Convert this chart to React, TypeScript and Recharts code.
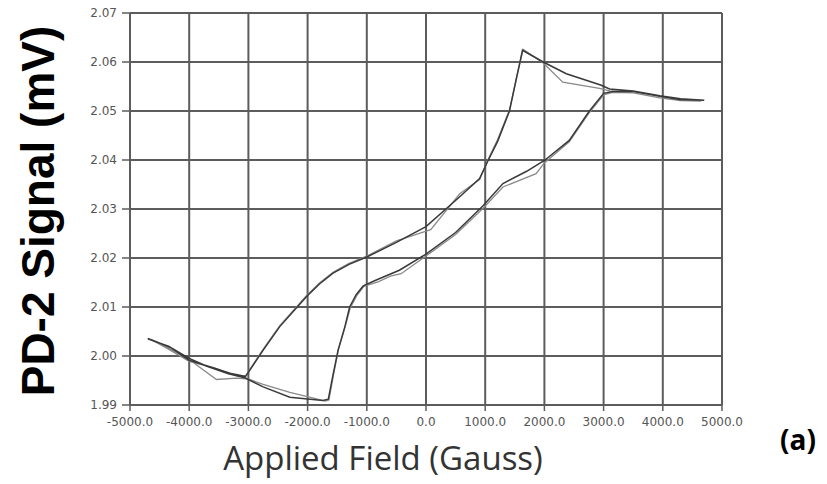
import React from 'react';
import { LineChart, Line, CartesianGrid, XAxis, YAxis } from 'recharts';

// first loop (darker trace): field swept up from -4700 G, then back down
const fieldDark = [
  -4700, -4350, -4000, -3700, -3350, -3050, -2750, -2300, -2000, -1740, -1650, -1570, -1485, -1370,
  -1290, -1180, -1060, -840, -450, 0, 500, 960, 1300, 1700, 2000, 2420, 2760, 3000, 3150, 3500,
  3950, 4300, 4700, 4300, 3950, 3500, 3100, 2950, 2370, 1980, 1630, 1520, 1410, 1210, 1045, 905, 570, 0,
  -500, -1000, -1300, -1570, -1800, -2020, -2470, -2750, -3050, -3310, -3650, -4000, -4320, -4700
];
const signalDark = [
  2.0035, 2.002, 1.9995, 1.9979, 1.9964, 1.9955, 1.9937, 1.9916, 1.9912, 1.9909, 1.9912, 1.9962, 2.0012, 2.006,
  2.01, 2.0125, 2.0143, 2.0155, 2.0175, 2.0208, 2.0252, 2.0306, 2.0352, 2.0377, 2.0399, 2.044, 2.05, 2.0536, 2.054, 2.054,
  2.053, 2.0523, 2.0522, 2.0525, 2.0531, 2.0541, 2.0545, 2.0553, 2.0576, 2.06, 2.0624, 2.0562, 2.05, 2.0438, 2.0398, 2.0362, 2.0325, 2.0264,
  2.0232, 2.0202, 2.0187, 2.0169, 2.0147, 2.0121, 2.006, 2.0012, 1.9958, 1.9965, 1.9978, 1.9991, 2.0018, 2.0036
];

// second loop (lighter trace)
const fieldLight = [
  -4650, -4380, -4000, -3540, -3200, -3000, -2750, -2300, -1900, -1700, -1640, -1560, -1480, -1370,
  -1280, -1170, -1050, -800, -600, -420, 0, 500, 960, 1300, 1860, 2000, 2420, 2760, 3000, 3150,
  3500, 3950, 4300, 4650, 4300, 3950, 3500, 3100, 2930, 2310, 1980, 1640, 1520, 1410, 1210, 1045, 905,
  570, 80, -500, -1000, -1300, -1570, -1800, -2020, -2470, -2750, -3050, -3310, -3540, -4000, -4380, -4650
];
const signalLight = [
  2.0034, 2.0019, 1.9993, 1.9952, 1.9955, 1.9953, 1.9942, 1.9926, 1.9914, 1.9908, 1.991, 1.9963, 2.0013, 2.0058,
  2.0098, 2.0123, 2.0142, 2.0152, 2.0163, 2.0168, 2.0204, 2.0248, 2.0301, 2.0345, 2.0372, 2.0394, 2.0437, 2.0497, 2.0533, 2.0538,
  2.0537, 2.0527, 2.0521, 2.052, 2.0521, 2.0527, 2.0537, 2.0541, 2.0546, 2.0559, 2.0598, 2.0626, 2.0564, 2.0502, 2.0442, 2.04, 2.036,
  2.0331, 2.0258, 2.0235, 2.0204, 2.0189, 2.0171, 2.0149, 2.0123, 2.0062, 2.0014, 1.9959, 1.9963, 1.9974, 1.9989, 2.0016, 2.0034
];

const xTicks = [-5000, -4000, -3000, -2000, -1000, 0, 1000, 2000, 3000, 4000, 5000];
const yTicks = [1.99, 2.0, 2.01, 2.02, 2.03, 2.04, 2.05, 2.06, 2.07];

const GRID = '#5c5c5c';
const tickStyle = { fontSize: 12, fill: '#555', fontFamily: 'DejaVu Sans' };

const toPoints = (xs: number[], ys: number[]) => xs.map((x, i) => ({ x, y: ys[i] }));

const YTitle = () => (
  <text
    x={54}
    y={211}
    transform="rotate(-90 54 211)"
    textAnchor="middle"
    fontFamily="Liberation Sans, Arial, sans-serif"
    fontWeight="bold"
    fontSize={46}
    fill="#000"
  >
    PD-2 Signal (mV)
  </text>
);

const XTitle = () => (
  <text x={383} y={470} textAnchor="middle" fontFamily="Open Sans" fontSize={33} fill="#333">
    Applied Field (Gauss)
  </text>
);

export default function App() {
  const darkData = React.useMemo(() => toPoints(fieldDark, signalDark), []);
  const lightData = React.useMemo(() => toPoints(fieldLight, signalLight), []);

  return (
    <div style={{ position: 'absolute', left: 0, top: 0, width: 827, height: 484, background: '#fff' }}>
      <LineChart width={827} height={484} margin={{ top: 13, right: 105, bottom: 49, left: 70 }}>
        <CartesianGrid stroke={GRID} strokeWidth={2} />
        <XAxis
          type="number"
          dataKey="x"
          domain={[-5000, 5000]}
          ticks={xTicks}
          tickFormatter={(v: number) => v.toFixed(1)}
          tick={tickStyle}
          tickSize={6}
          tickMargin={6}
          axisLine={{ stroke: GRID, strokeWidth: 2 }}
          tickLine={{ stroke: GRID, strokeWidth: 1.5 }}
          height={30}
          interval={0}
          allowDataOverflow
          label={<XTitle />}
        />
        <YAxis
          type="number"
          dataKey="y"
          domain={[1.99, 2.07]}
          ticks={yTicks}
          tickFormatter={(v: number) => v.toFixed(2)}
          tick={tickStyle}
          tickSize={8}
          tickMargin={5}
          axisLine={{ stroke: GRID, strokeWidth: 2 }}
          tickLine={{ stroke: GRID, strokeWidth: 1.5 }}
          width={60}
          interval={0}
          allowDataOverflow
          label={<YTitle />}
        />
        <Line
          data={lightData}
          dataKey="y"
          type="linear"
          stroke="#8a8a8a"
          strokeWidth={1.3}
          dot={false}
          isAnimationActive={false}
        />
        <Line
          data={darkData}
          dataKey="y"
          type="linear"
          stroke="#3a3a3a"
          strokeWidth={1.5}
          dot={false}
          isAnimationActive={false}
        />
      </LineChart>
      <div
        style={{
          position: 'absolute',
          left: 780,
          top: 420,
          fontFamily: 'Open Sans',
          fontWeight: 'bold',
          fontSize: 28,
          color: '#000'
        }}
      >
        (a)
      </div>
    </div>
  );
}
